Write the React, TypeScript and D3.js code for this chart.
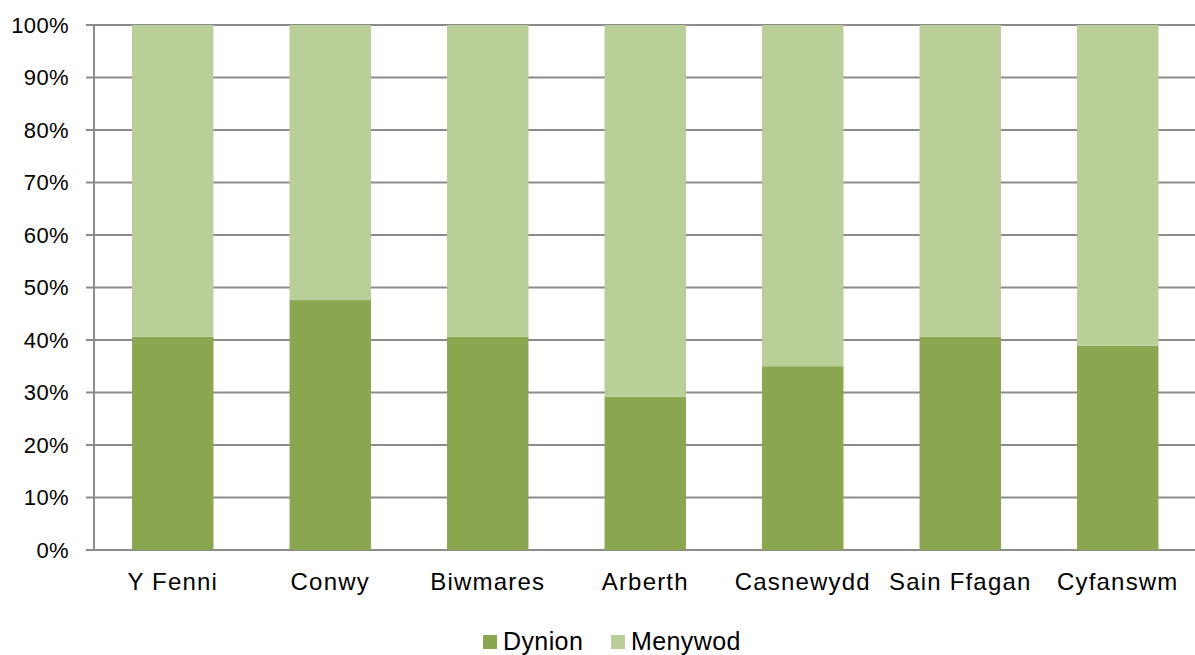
import React from "react";
import * as d3 from "d3";

const categories = ["Y Fenni", "Conwy", "Biwmares", "Arberth", "Casnewydd", "Sain Ffagan", "Cyfanswm"];
const dynion = [40.6, 47.6, 40.6, 29.2, 35.0, 40.6, 38.9];
const menywod = dynion.map((d) => 100 - d);
const seriesNames = ["Dynion", "Menywod"];
const seriesColors = ["#8AA64F", "#BACE98"];
const yTicks = [0, 10, 20, 30, 40, 50, 60, 70, 80, 90, 100];

const W = 1195;
const H = 655;
const left = 94;
const right = 1196.5;
const top = 25;
const bottom = 550;
const font = "'Liberation Sans', Arial, sans-serif";

export default function App() {
  const x = d3.scaleBand<string>().domain(categories).range([left, right]).paddingInner(0.483).paddingOuter(0.2415);
  const y = d3.scaleLinear().domain([0, 100]).range([bottom, top]);
  const rows = categories.map((c, i) => ({ c, d: dynion[i], m: menywod[i] }));
  const stack = d3.stack<any>().keys(["d", "m"])(rows);

  return (
    <svg width={W} height={H} style={{ position: "absolute", left: 0, top: 0, background: "#fff" }}>
      {yTicks.map((t) => (
        <g key={t}>
          <line x1={left - 8} x2={W} y1={y(t)} y2={y(t)} stroke="#8c8c8c" strokeWidth={2} />
          <text x={69} y={y(t)} dy="0.36em" textAnchor="end" fontFamily={font} fontSize={22} letterSpacing={0.4} fill="#000">
            {t}%
          </text>
        </g>
      ))}
      <line x1={left} x2={left} y1={top} y2={bottom} stroke="#8c8c8c" strokeWidth={2} />
      {stack.map((s, si) =>
        s.map((p, i) => (
          <rect
            key={si + "-" + i}
            x={x(categories[i])!}
            width={x.bandwidth()}
            y={y(p[1])}
            height={y(p[0]) - y(p[1])}
            fill={seriesColors[si]}
          />
        ))
      )}
      {categories.map((c) => (
        <text key={c} x={x(c)! + x.bandwidth() / 2} y={590} textAnchor="middle" fontFamily={font} fontSize={24} letterSpacing={1.2} fill="#000">
          {c}
        </text>
      ))}
      <g>
        <rect x={483} y={635} width={14} height={14} fill={seriesColors[0]} />
        <text x={503} y={650} fontFamily={font} fontSize={25} letterSpacing={0.4} fill="#000">{seriesNames[0]}</text>
        <rect x={611} y={635} width={14} height={14} fill={seriesColors[1]} />
        <text x={631} y={650} fontFamily={font} fontSize={25} letterSpacing={0.4} fill="#000">{seriesNames[1]}</text>
      </g>
    </svg>
  );
}
